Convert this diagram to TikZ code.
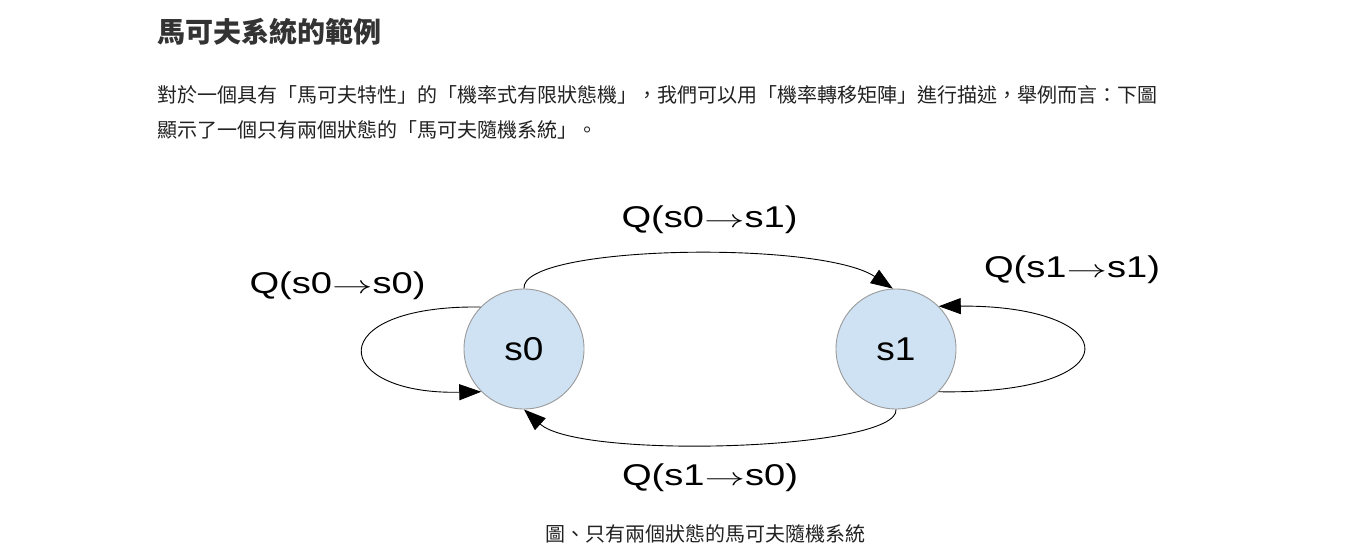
\documentclass[tikz,border=0pt]{standalone}
\usepackage{fontspec}
\setmainfont{Liberation Sans}
\newfontfamily\cjk{Noto Sans CJK TC}
\usetikzlibrary{arrows.meta}
\definecolor{nodefill}{HTML}{CFE2F3}
\definecolor{nodeline}{HTML}{9A9A9A}
\definecolor{txt}{HTML}{222222}
\definecolor{ttl}{HTML}{333333}
\newcommand{\qarr}{\scalebox{1.28}[1]{\ensuremath{\rightarrow}}}
\begin{document}
\begin{tikzpicture}[x=1pt,y=-1pt,
  state/.style={circle,draw=nodeline,fill=nodefill,line width=0.9pt,minimum size=120pt,inner sep=0pt,font=\fontsize{33}{33}\selectfont},
  edge/.style={draw=black,line width=0.9pt,-{Triangle[length=22pt,width=16pt]}},
  lab/.style={anchor=base,inner sep=0pt,font=\fontsize{30}{30}\selectfont},
  body/.style={anchor=base west,inner sep=0pt,text=txt,font=\cjk\fontsize{20}{20}\selectfont}]
\useasboundingbox[fill=white] (0,0) rectangle (1359,553);
\node[anchor=base west,inner sep=0pt,text=ttl,font=\cjk\bfseries\fontsize{28}{28}\selectfont] (title) at (157,43) {馬可夫系統的範例};
\node[body] (line1) at (157,103) {對於一個具有「馬可夫特性」的「機率式有限狀態機」，我們可以用「機率轉移矩陣」進行描述，舉例而言：下圖};
\node[body] (line2) at (157,138) {顯示了一個只有兩個狀態的「馬可夫隨機系統」。};
\node[state] (s0) at (524,349) {\scalebox{1.12}[1]{s0}};
\node[state] (s1) at (896,349) {\scalebox{1.12}[1]{s1}};
\draw[edge] (s0.north) .. controls (520,245) and (820,240) .. (s1.93);
\draw[edge] (s1.south) .. controls (900,450) and (580,460) .. (s0.south);
\draw[edge] (s0.136) .. controls (320,305) and (330,395) .. (s0.225);
\draw[edge] (s1.-45) .. controls (1135,395) and (1125,305) .. (s1.45);
\node[lab] (l01) at (709.5,228) {\scalebox{1.27}[1]{Q(s0\qarr s1)}};
\node[lab] (l10) at (710,485) {\scalebox{1.27}[1]{Q(s1\qarr s0)}};
\node[lab] (l00) at (337.5,293) {\scalebox{1.27}[1]{Q(s0\qarr s0)}};
\node[lab] (l11) at (1072,277) {\scalebox{1.27}[1]{Q(s1\qarr s1)}};
\node[anchor=base,inner sep=0pt,text=txt,font=\cjk\fontsize{20}{20}\selectfont] (cap) at (705,541) {圖、只有兩個狀態的馬可夫隨機系統};
\end{tikzpicture}
\end{document}
